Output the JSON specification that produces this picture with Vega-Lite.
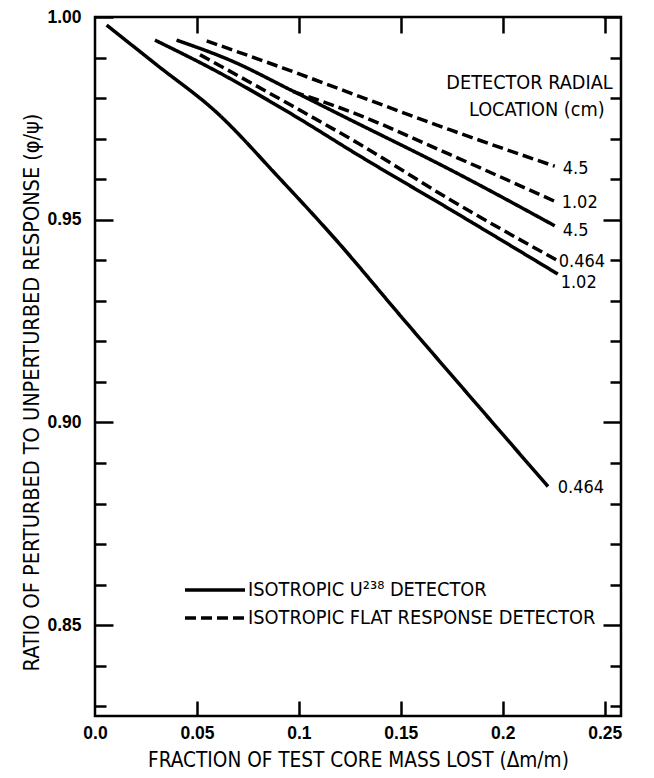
{
  "$schema": "https://vega.github.io/schema/vega-lite/v6.json",
  "width": 526,
  "height": 699,
  "autosize": {"type": "none"},
  "padding": {"left": 95, "top": 17, "right": 33, "bottom": 62},
  "background": "white",
  "config": {
    "view": {"stroke": "black", "strokeWidth": 2.5},
    "axis": {"grid": false, "domain": false, "tickColor": "black", "tickWidth": 2.5, "labelColor": "black", "titleColor": "black"},
    "text": {"color": "black"}
  },
  "resolve": {"axis": {"x": "independent", "y": "independent"}},
  "layer": [
    {
      "data": {"values": [
        {"detector": "ISOTROPIC U²³⁸ DETECTOR", "location": "0.464", "x": 0.0057, "y": 0.998},
        {"detector": "ISOTROPIC U²³⁸ DETECTOR", "location": "0.464", "x": 0.03, "y": 0.9883},
        {"detector": "ISOTROPIC U²³⁸ DETECTOR", "location": "0.464", "x": 0.06, "y": 0.9763},
        {"detector": "ISOTROPIC U²³⁸ DETECTOR", "location": "0.464", "x": 0.09, "y": 0.9605},
        {"detector": "ISOTROPIC U²³⁸ DETECTOR", "location": "0.464", "x": 0.12, "y": 0.944},
        {"detector": "ISOTROPIC U²³⁸ DETECTOR", "location": "0.464", "x": 0.15, "y": 0.9262},
        {"detector": "ISOTROPIC U²³⁸ DETECTOR", "location": "0.464", "x": 0.18, "y": 0.9087},
        {"detector": "ISOTROPIC U²³⁸ DETECTOR", "location": "0.464", "x": 0.2222, "y": 0.8842},
        {"detector": "ISOTROPIC U²³⁸ DETECTOR", "location": "1.02", "x": 0.0294, "y": 0.9943},
        {"detector": "ISOTROPIC U²³⁸ DETECTOR", "location": "1.02", "x": 0.0597, "y": 0.9866},
        {"detector": "ISOTROPIC U²³⁸ DETECTOR", "location": "1.02", "x": 0.0956, "y": 0.9763},
        {"detector": "ISOTROPIC U²³⁸ DETECTOR", "location": "1.02", "x": 0.1299, "y": 0.9657},
        {"detector": "ISOTROPIC U²³⁸ DETECTOR", "location": "1.02", "x": 0.174, "y": 0.9526},
        {"detector": "ISOTROPIC U²³⁸ DETECTOR", "location": "1.02", "x": 0.227, "y": 0.9366},
        {"detector": "ISOTROPIC U²³⁸ DETECTOR", "location": "4.5", "x": 0.04, "y": 0.9943},
        {"detector": "ISOTROPIC U²³⁸ DETECTOR", "location": "4.5", "x": 0.0678, "y": 0.989},
        {"detector": "ISOTROPIC U²³⁸ DETECTOR", "location": "4.5", "x": 0.0956, "y": 0.9821},
        {"detector": "ISOTROPIC U²³⁸ DETECTOR", "location": "4.5", "x": 0.125, "y": 0.9747},
        {"detector": "ISOTROPIC U²³⁸ DETECTOR", "location": "4.5", "x": 0.174, "y": 0.9624},
        {"detector": "ISOTROPIC U²³⁸ DETECTOR", "location": "4.5", "x": 0.2255, "y": 0.9485},
        {"detector": "ISOTROPIC FLAT RESPONSE DETECTOR", "location": "0.464", "x": 0.0515, "y": 0.9907},
        {"detector": "ISOTROPIC FLAT RESPONSE DETECTOR", "location": "0.464", "x": 0.0956, "y": 0.9784},
        {"detector": "ISOTROPIC FLAT RESPONSE DETECTOR", "location": "0.464", "x": 0.1299, "y": 0.9686},
        {"detector": "ISOTROPIC FLAT RESPONSE DETECTOR", "location": "0.464", "x": 0.174, "y": 0.955},
        {"detector": "ISOTROPIC FLAT RESPONSE DETECTOR", "location": "0.464", "x": 0.227, "y": 0.9399},
        {"detector": "ISOTROPIC FLAT RESPONSE DETECTOR", "location": "1.02", "x": 0.0972, "y": 0.9816},
        {"detector": "ISOTROPIC FLAT RESPONSE DETECTOR", "location": "1.02", "x": 0.125, "y": 0.9767},
        {"detector": "ISOTROPIC FLAT RESPONSE DETECTOR", "location": "1.02", "x": 0.174, "y": 0.9661},
        {"detector": "ISOTROPIC FLAT RESPONSE DETECTOR", "location": "1.02", "x": 0.227, "y": 0.9542},
        {"detector": "ISOTROPIC FLAT RESPONSE DETECTOR", "location": "4.5", "x": 0.0548, "y": 0.9941},
        {"detector": "ISOTROPIC FLAT RESPONSE DETECTOR", "location": "4.5", "x": 0.0923, "y": 0.9874},
        {"detector": "ISOTROPIC FLAT RESPONSE DETECTOR", "location": "4.5", "x": 0.125, "y": 0.9813},
        {"detector": "ISOTROPIC FLAT RESPONSE DETECTOR", "location": "4.5", "x": 0.174, "y": 0.9722},
        {"detector": "ISOTROPIC FLAT RESPONSE DETECTOR", "location": "4.5", "x": 0.2255, "y": 0.9632}
      ]},
      "mark": {"type": "line", "color": "black", "strokeWidth": 3.5, "strokeCap": "butt", "interpolate": "monotone"},
      "encoding": {
        "x": {"field": "x", "type": "quantitative",
          "scale": {"domain": [0, 0.258], "nice": false, "zero": false},
          "axis": {"orient": "bottom", "values": [0, 0.05, 0.1, 0.15, 0.2, 0.25], "ticks": false, "labelFlush": false,
            "labelExpr": "datum.value === 0 ? '0.0' : toString(datum.value)",
            "labelFont": "Liberation Sans", "labelFontWeight": "bold", "labelFontSize": 17.5, "labelPadding": 8,
            "title": "FRACTION OF TEST CORE MASS LOST (Δm/m)", "titleFont": "DejaVu Sans Condensed, Liberation Sans", "titleFontWeight": "normal", "titleFontSize": 20.6, "titlePadding": 9}},
        "y": {"field": "y", "type": "quantitative",
          "scale": {"domain": [0.8276, 1.0], "nice": false, "zero": false},
          "axis": {"orient": "left", "values": [0.85, 0.9, 0.95, 1.0], "ticks": false,
            "labelExpr": "format(datum.value, '.2f')",
            "labelFont": "Liberation Sans", "labelFontWeight": "bold", "labelFontSize": 17.5, "labelPadding": 14,
            "title": "RATIO OF PERTURBED TO UNPERTURBED RESPONSE (φ/ψ)", "titleFont": "DejaVu Sans Condensed, Liberation Sans", "titleFontWeight": "normal", "titleFontSize": 21.5, "titlePadding": 3, "titleY": 375}},
        "strokeDash": {"field": "detector", "type": "nominal",
          "scale": {"domain": ["ISOTROPIC U²³⁸ DETECTOR", "ISOTROPIC FLAT RESPONSE DETECTOR"], "range": [[1, 0], [11, 5]]},
          "legend": {"orient": "none", "legendX": 108, "legendY": 561, "title": null, "symbolType": "M-3,0H3", "symbolSize": 400,
            "symbolStrokeWidth": 3.5, "symbolStrokeColor": "black", "labelFont": "DejaVu Sans Condensed, Liberation Sans", "labelFontSize": 19.8,
            "labelColor": "black", "labelOffset": 21, "labelLimit": 0, "rowPadding": 6}},
        "detail": [{"field": "detector"}, {"field": "location"}]
      }
    },
    {
      "data": {"values": [
        {"label": "4.5", "x": 0.2294, "y": 0.9624},
        {"label": "1.02", "x": 0.2289, "y": 0.9541},
        {"label": "4.5", "x": 0.2294, "y": 0.9472},
        {"label": "0.464", "x": 0.2275, "y": 0.9396},
        {"label": "1.02", "x": 0.2284, "y": 0.9344},
        {"label": "0.464", "x": 0.227, "y": 0.8838}
      ]},
      "mark": {"type": "text", "align": "left", "baseline": "middle", "font": "DejaVu Sans Condensed, Liberation Sans", "fontSize": 18},
      "encoding": {
        "x": {"field": "x", "type": "quantitative", "scale": {"domain": [0, 0.258], "nice": false, "zero": false},
          "axis": {"orient": "top", "values": [0.05, 0.1, 0.15, 0.2, 0.25], "labels": false, "tickSize": -16, "title": null}},
        "y": {"field": "y", "type": "quantitative", "scale": {"domain": [0.8276, 1.0], "nice": false, "zero": false},
          "axis": {"orient": "right", "values": [0.83, 0.84, 0.85, 0.86, 0.87, 0.88, 0.89, 0.9, 0.91, 0.92, 0.93, 0.94, 0.95, 0.96, 0.97, 0.98, 0.99, 1.0],
            "labels": false, "title": null,
            "tickSize": {"condition": {"test": "abs(datum.value * 20 - round(datum.value * 20)) < 0.001", "value": -18}, "value": -11}}},
        "text": {"field": "label"}
      }
    },
    {
      "data": {"values": [
        {"label": "DETECTOR RADIAL", "x": 0.2539, "y": 0.9838},
        {"label": "LOCATION (cm)", "x": 0.25, "y": 0.9771}
      ]},
      "mark": {"type": "text", "align": "right", "baseline": "middle", "font": "DejaVu Sans Condensed, Liberation Sans", "fontSize": 19.7},
      "encoding": {
        "x": {"field": "x", "type": "quantitative", "scale": {"domain": [0, 0.258], "nice": false, "zero": false},
          "axis": {"orient": "bottom", "values": [0.05, 0.1, 0.15, 0.2, 0.25], "labels": false, "tickSize": -15, "title": null}},
        "y": {"field": "y", "type": "quantitative", "scale": {"domain": [0.8276, 1.0], "nice": false, "zero": false},
          "axis": {"orient": "left", "values": [0.83, 0.84, 0.85, 0.86, 0.87, 0.88, 0.89, 0.9, 0.91, 0.92, 0.93, 0.94, 0.95, 0.96, 0.97, 0.98, 0.99, 1.0],
            "labels": false, "title": null,
            "tickSize": {"condition": {"test": "abs(datum.value * 20 - round(datum.value * 20)) < 0.001", "value": -18}, "value": -11}}},
        "text": {"field": "label"}
      }
    }
  ]
}
